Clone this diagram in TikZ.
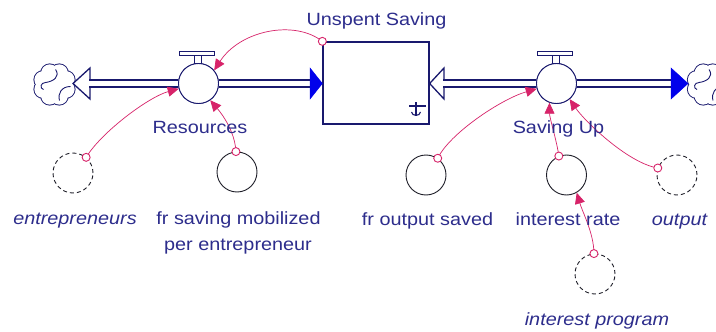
\documentclass[tikz,border=0pt]{standalone}
\usepackage{fontspec}
\setmainfont{Liberation Sans}[FakeStretch=1.12]
\usetikzlibrary{arrows.meta,calc}
\definecolor{txt}{RGB}{45,45,140}
\definecolor{pipe}{RGB}{25,25,110}
\definecolor{blu}{RGB}{0,0,235}
\definecolor{lnk}{RGB}{215,35,105}
\definecolor{ink}{RGB}{30,30,40}
\newcommand{\cloudat}[2]{%
  \foreach \a in {22.5,67.5,...,337.5}{\draw[pipe, line width=1.8pt] ($(#1,#2)+(\a:12.5pt)$) circle[radius=8.6pt];}
  \foreach \a in {22.5,67.5,...,337.5}{\fill[white] ($(#1,#2)+(\a:12.5pt)$) circle[radius=8.6pt];}
  \fill[white] (#1,#2) circle[radius=13pt];
  \draw[pipe, line width=0.9pt] ($(#1,#2)+(1,-15)$) .. controls +(5,7) and +(8,-1) .. ($(#1,#2)+(-9,-2)$) .. controls +(-5,0) and +(-4,-1) .. ($(#1,#2)+(-11,5)$);
  \draw[pipe, line width=0.9pt] ($(#1,#2)+(16,2)$) .. controls +(-9,0) and +(-2,-7) .. ($(#1,#2)+(5,16)$);
}
\begin{document}
\begin{tikzpicture}[x=1pt,y=-1pt,
  lbl/.style={text=txt, font=\fontsize{17.7}{25}\selectfont, inner sep=0pt, anchor=base},
  ilbl/.style={lbl, font=\fontsize{17.7}{25}\selectfont\itshape},
  aux/.style={circle, draw=ink, line width=0.9pt, minimum size=40pt, inner sep=0pt},
  shadowvar/.style={aux, dash pattern=on 4pt off 3pt},
  valve/.style={circle, draw=pipe, line width=0.9pt, minimum size=40pt, inner sep=0pt, fill=white},
  stock/.style={rectangle, draw=pipe, line width=1.3pt, minimum width=106pt, minimum height=82pt, inner sep=0pt, fill=white},
  link/.style={draw=lnk, line width=0.7pt, -{Triangle[length=11pt,width=10pt]}},
  tailmark/.style={circle, draw=lnk, line width=0.9pt, minimum size=8pt, inner sep=0pt, fill=white},
  pipeline/.style={draw=pipe, line width=1.3pt, double=white, double distance=5.5pt},
  openhead/.style={draw=pipe, line width=1.3pt, fill=white, line join=miter},
  fullhead/.style={fill=blu, draw=blu, line width=0.5pt},
]
\useasboundingbox (0,0) rectangle (716,332);
\fill[white] (0,0) rectangle (716,332);
\begin{scope}
\clip (0,0) rectangle (716,332);

% clouds
\coordinate (c1) at (54.5,84.5);
\coordinate (c2) at (708,84.5);
\cloudat{54.5}{84.5}
\cloudat{708}{84.5}

% stock
\node[stock] (us) at (376,83) {};
\draw[pipe, line width=1.1pt] (409,106) -- (426,106);
\draw[pipe, line width=1.1pt] (416,102) -- (416,116);
\draw[pipe, line width=1.1pt] (411.5,112) .. controls (412,116.5) and (420,116.5) .. (420.5,112);

% valves
\node[valve] (v1) at (198.5,83.5) {};
\node[valve] (v2) at (556.5,83.5) {};

% pipes: left flow
\coordinate (h1) at (90,83.5);
\coordinate (f1) at (310,83.5);
\draw[openhead] (90,68) -- (73,83.5) -- (90,99) -- cycle;
\draw[pipeline] (89.3,83.5) -- (v1.west);
\draw[pipeline] (v1.east) -- (f1);
\draw[fullhead] (310,68) -- (us.west |- f1) -- (310,99) -- cycle;

% pipes: right flow
\coordinate (h2) at (444,83.5);
\coordinate (f2) at (671,83.5);
\draw[openhead] (444,68) -- (us.east |- h2) -- (444,99) -- cycle;
\draw[pipeline] (443.3,83.5) -- (v2.west);
\draw[pipeline] (v2.east) -- (f2);
\draw[fullhead] (671,68) -- (688,83.5) -- (671,99) -- cycle;

% redraw valves on top
\node[valve] at (v1) {};
\node[valve] at (v2) {};

% valve handles
\foreach \v in {v1,v2}{
  \draw[pipe, line width=0.9pt, fill=white] ([xshift=-4pt]\v.north) rectangle ([xshift=3pt,yshift=8pt]\v.north);
  \draw[pipe, line width=0.9pt, fill=white] ([xshift=-19pt,yshift=8pt]\v.north) rectangle ([xshift=16pt,yshift=11.5pt]\v.north);
}

% auxiliaries
\node[shadowvar] (ent) at (73,173) {};
\node[aux] (frs) at (237,172) {};
\node[aux] (fro) at (426,175) {};
\node[aux] (ir) at (566.5,175) {};
\node[shadowvar] (out) at (677,175) {};
\node[shadowvar] (ip) at (595,274) {};

% links
\draw[link] (us.north west) .. controls +(-28,-22) and +(26,-40) .. (v1.40);
\draw[link] (ent.50) .. controls +(15,-25) and +(-30,8) .. (v1.195);
\draw[link] (frs.93) .. controls +(-1,-20) and +(12,14) .. (v1.-55);
\draw[link] (fro.55) .. controls +(12,-25) and +(-35,10) .. (v2.195);
\draw[link] (ir.112) .. controls +(-2,-15) and +(0,15) .. (v2.-110);
\draw[link] (out.160) .. controls +(-30,-5) and +(15,22) .. (v2.-50);
\draw[link] (ip.93) .. controls +(0,-20) and +(6,20) .. (ir.-60);

% link tails
\node[tailmark] at (us.north west) {};
\node[tailmark] at (ent.50) {};
\node[tailmark] at (frs.93) {};
\node[tailmark] at (fro.55) {};
\node[tailmark] at (ir.112) {};
\node[tailmark] at (out.160) {};
\node[tailmark] at (ip.93) {};
\end{scope}

% labels
\node[lbl] (lus) at (376.5,26) {Unspent Saving};
\node[lbl] (lres) at (200,133) {Resources};
\node[lbl] (lsu) at (558.5,133) {Saving Up};
\node[ilbl] (lent) at (75,224) {entrepreneurs};
\node[lbl] (lfrs) at (238.5,224) {fr saving mobilized};
\node[lbl] (lfrs2) at (238,250) {per entrepreneur};
\node[lbl] (lfro) at (427.5,225) {fr output saved};
\node[lbl] (lir) at (568,225) {interest rate};
\node[ilbl] (lout) at (679.5,225) {output};
\node[ilbl] (lip) at (597,325) {interest program};
\end{tikzpicture}
\end{document}
